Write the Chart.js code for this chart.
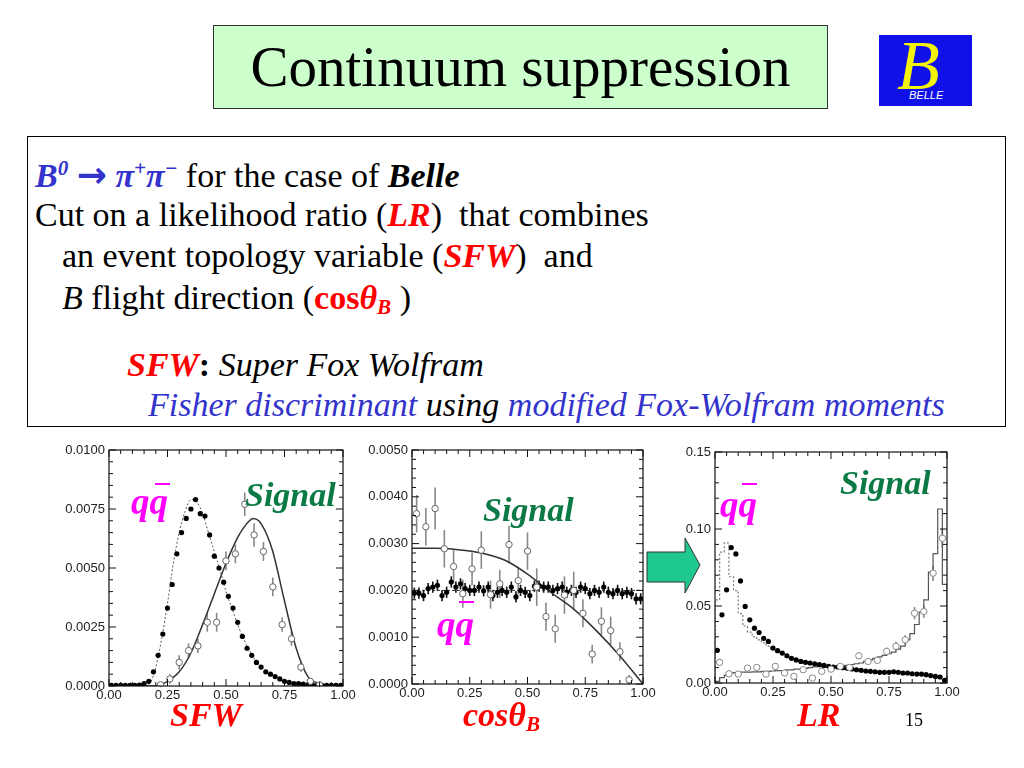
<!DOCTYPE html>
<html>
<head>
<meta charset="utf-8">
<script src="https://cdn.jsdelivr.net/npm/chart.js@4.4.1/dist/chart.umd.min.js"></script>
<style>
  body { margin:0; width:1024px; height:768px; background:#fff; position:relative; overflow:hidden;
         font-family:"Liberation Serif","Times New Roman",serif; }
  .abs { position:absolute; line-height:1; white-space:nowrap; }
  #title { left:213px; top:25px; width:613px; height:82px; background:#ccffcc; border:1px solid #333;
           font-size:57px; line-height:82px; text-align:center; }
  #logo { left:879px; top:35px; width:93px; height:71px; background:#1010e8; overflow:hidden; }
  #box { left:27px; top:136px; width:977px; height:289px; border:1px solid #000; }
  .txt { font-size:34px; }
  .blue { color:#3333cc; }
  .red { color:#ff0000; }
  .bi { font-weight:bold; font-style:italic; }
  .it { font-style:italic; }
  .sup { font-size:0.62em; vertical-align:0.55em; }
  .sub { font-size:0.62em; vertical-align:-0.25em; }
  .arr { font-family:"DejaVu Sans",sans-serif; font-style:normal; font-weight:bold; font-size:36px; }
  .mag { color:#ff00ff; font-size:37px; font-weight:bold; font-style:italic; }
  .grn { color:#0b7a45; font-size:34px; font-weight:bold; font-style:italic; }
  .bar { position:absolute; height:2px; background:#ff00ff; }
  canvas { position:absolute; }
</style>
</head>
<body>
<div id="title" class="abs">Continuum suppression</div>

<div id="logo" class="abs">
  <div class="abs" style="left:18px;top:-4px;font-size:70px;color:#f2f20a;font-style:italic;">B</div>
  <div class="abs" style="left:30px;top:55px;font-size:11px;color:#fff;font-style:italic;font-family:'Liberation Sans',sans-serif;">BELLE</div>
</div>

<div id="box" class="abs"></div>
<div class="abs txt" style="left:35px;top:157px;"><span class="blue bi">B<span class="sup">0</span> <span class="arr">&rarr;</span> &pi;<span class="sup">+</span>&pi;<span class="sup">&minus;</span></span> for the case of <span class="bi">Belle</span></div>
<div class="abs txt" style="left:35px;top:198px;">Cut on a likelihood ratio (<span class="red bi">LR</span>)&nbsp; that combines</div>
<div class="abs txt" style="left:62px;top:239px;">an event topology variable (<span class="red bi">SFW</span>)&nbsp; and</div>
<div class="abs txt" style="left:62px;top:281px;"><span class="it">B</span> flight direction (<span class="red"><b>cos</b><span class="bi">&theta;<span class="sub">B</span></span></span> )</div>
<div class="abs txt" style="left:127px;top:348px;"><span class="red bi">SFW</span><b>:</b> <span class="it">Super Fox Wolfram</span></div>
<div class="abs txt it" style="left:148px;top:388px;"><span class="blue">Fisher discriminant</span> using <span class="blue">modified Fox-Wolfram moments</span></div>

<canvas id="c1" width="306" height="264" style="left:55px;top:442px;"></canvas>
<canvas id="c2" width="303" height="262" style="left:358px;top:442px;"></canvas>
<canvas id="c3" width="304" height="259" style="left:661px;top:444px;"></canvas>

<svg class="abs" style="left:0;top:0;" width="1024" height="768">
  <polygon points="647,552 685,552 685,538 700,565 685,593 685,582 647,582" fill="#1fc98d" stroke="#333" stroke-width="1"/>
</svg>

<!-- labels inside the plots -->
<div class="abs mag" style="left:131px;top:483px;">qq</div>
<div class="bar" style="left:155px;top:483px;width:15px;"></div>
<div class="abs grn" style="left:245px;top:478px;">Signal</div>
<div class="abs grn" style="left:483px;top:493px;">Signal</div>
<div class="abs mag" style="left:437px;top:606px;">qq</div>
<div class="bar" style="left:459px;top:601px;width:15px;"></div>
<div class="abs mag" style="left:720px;top:486px;">qq</div>
<div class="bar" style="left:742px;top:483px;width:15px;"></div>
<div class="abs grn" style="left:840px;top:466px;">Signal</div>

<div class="abs red bi" style="left:170px;top:698px;font-size:34px;">SFW</div>
<div class="abs red bi" style="left:463px;top:698px;font-size:34px;">cos&theta;<span class="sub">B</span></div>
<div class="abs red bi" style="left:797px;top:698px;font-size:34px;">LR</div>
<div class="abs" style="left:905px;top:711px;font-size:18px;">15</div>

<script>
// ---- SFW plot ----
var sfwQq = [0.00003,0.00003,0.00003,0.00003,0.00003,0.00003,0.00004,0.0001,0.0002,0.0006,
             0.0013,0.0022,0.0033,0.0043,0.0056,0.0065,0.0071,0.0075,0.0079,0.0073,
             0.0072,0.0064,0.0055,0.0050,0.0044,0.0038,0.0033,0.0027,0.0021,0.0016,
             0.0013,0.0010,0.0008,0.0006,0.0005,0.0004,0.0003,0.0002,0.00015,0.0001,
             0.0001,0.00008,0.00005,0.00004,0.00003,0.00003,0.00003,0.00003,0.00003,0.00003];
var sfwSig = [null,null,null,null,null,0.00005,0.0003,0.0010,0.0015,0.0017,
              0.0027,0.0027,0.0053,0.0056,0.0077,0.0064,0.0057,0.0042,0.0026,0.0020,
              0.0008,0.0002,0.00005,null,null];
var sfwSigErr = [0,0,0,0,0,0.0001,0.0002,0.0003,0.0003,0.0003,
                 0.0004,0.0004,0.0004,0.0004,0.0005,0.0005,0.0004,0.0004,0.0003,0.0003,
                 0.0002,0.0001,0.0001,0,0];
var sfwQqFitX = [0.00,0.15,0.18,0.20,0.225,0.25,0.275,0.30,0.325,0.35,0.375,0.40,0.425,0.45,0.475,0.50,0.525,0.55,0.575,0.60,0.625,0.65,0.70,0.75,0.80,0.90,1.00];
var sfwQqFitY = [0,0,0.0002,0.0008,0.0020,0.0035,0.0052,0.0065,0.0074,0.0079,0.0078,0.0073,0.0065,0.0057,0.0049,0.0040,0.0033,0.0026,0.0020,0.0015,0.0011,0.0008,0.0004,0.0002,0.0001,0,0];
var sfwSigFitX = [0.00,0.20,0.25,0.30,0.35,0.40,0.45,0.50,0.55,0.575,0.60,0.615,0.64,0.675,0.70,0.75,0.80,0.85,0.90,0.95,1.00];
var sfwSigFitY = [0,0,0.0002,0.0006,0.0014,0.0026,0.0039,0.0052,0.0063,0.0067,0.0070,0.0071,0.0070,0.0064,0.0057,0.0036,0.0016,0.0004,0.0001,0,0];

// ---- cos theta_B plot ----
var cosQq = [19.4,19.4,18.9,20.4,20.7,21.1,18.9,19.6,21.8,20.7,21.4,20.4,20.0,20.0,20.7,19.9,20.7,18.9,19.6,20.0,
             19.6,20.7,18.6,20.0,19.6,18.9,20.9,20.9,20.7,20.7,20.0,20.4,20.7,19.6,20.0,19.6,20.7,20.4,19.3,20.0,
             19.6,20.7,19.6,19.3,20.0,19.3,19.6,19.3,18.2,18.2];   // units of 1e-4
var cosSig = [0.00364,0.00336,0.00375,0.00289,0.00251,0.00193,0.00246,0.00286,0.00191,0.00214,
              0.00298,0.00221,0.00284,0.00207,0.00144,0.00118,0.0019,0.0020,0.00151,0.00064,
              0.00134,0.00114,0.00069,0.00009,null];
var cosSigErr = [0.0004,0.0004,0.00045,0.0004,0.00035,0.0003,0.00035,0.0004,0.0003,0.0003,
                 0.0004,0.0003,0.0004,0.0004,0.0003,0.0003,0.0004,0.0004,0.0003,0.0002,
                 0.0003,0.0003,0.0002,0.0001,0];
var cosQqFitX = [0, 1];
var cosQqFitY = [0.0020, 0.0020];
var cosSigFitX = [0,0.1,0.2,0.3,0.4,0.5,0.6,0.7,0.8,0.9,1.0];
var cosSigFitY = [0.0029,0.0029,0.00287,0.0028,0.00265,0.00235,0.00196,0.0016,0.00113,0.0006,0];

// ---- LR plot ----
var lrQq = [0.0212,0.0443,0.0605,0.088,0.0838,0.0663,0.0497,0.041,0.0356,0.0328,
            0.029,0.027,0.0227,0.021,0.0194,0.0177,0.016,0.015,0.014,0.0134,
            0.013,0.0125,0.0119,0.0114,0.0108,0.0104,0.0104,0.0099,0.0095,0.0091,
            0.0086,0.0082,0.0078,0.0076,0.0073,0.0069,0.0069,0.0069,0.0073,0.0069,
            0.0065,0.0065,0.006,0.0058,0.0058,0.0054,0.0048,0.0043,0.0039,0.0017];
var lrSig = [0.0134,0.006,0.0058,0.0097,0.0101,0.0058,0.0108,0.0065,0.0043,0.0086,
             0.0032,0.0076,0.009,0.0108,0.0101,0.0177,0.014,0.0147,0.0205,0.0238,
             0.028,0.0453,0.0464,0.0713,0.094];
var lrSigErr = [0.002,0.0015,0.0015,0.0015,0.0015,0.0015,0.0015,0.0015,0.0015,0.0015,
                0.0015,0.0015,0.0015,0.0015,0.0015,0.002,0.002,0.002,0.0025,0.003,
                0.003,0.004,0.004,0.005,0.006];
var lrQqHist = [0.054,0.085,0.091,0.069,0.060,0.045,0.037,0.033,0.030,0.028,
                0.026,0.024,0.022,0.020,0.019,0.017,0.016,0.015,0.014,0.013,
                0.0125,0.012,0.0115,0.011,0.0105,0.010,0.010,0.0095,0.009,0.0088,
                0.0085,0.008,0.0078,0.0075,0.0072,0.007,0.0068,0.0068,0.0068,0.0066,
                0.0064,0.0062,0.006,0.0058,0.0056,0.0053,0.0048,0.0043,0.0038,0.002];
var lrSigHist = [0.001,0.0035,0.005,0.0065,0.0068,0.007,0.007,0.007,0.0072,0.0072,
                 0.0075,0.0075,0.0078,0.008,0.008,0.0085,0.0085,0.009,0.009,0.0095,
                 0.010,0.0105,0.011,0.0105,0.011,0.0105,0.011,0.011,0.0115,0.012,
                 0.0125,0.013,0.014,0.015,0.016,0.017,0.018,0.019,0.020,0.022,
                 0.024,0.028,0.032,0.038,0.046,0.054,0.072,0.084,0.113,0.064];

var xTicks = [0, 0.25, 0.5, 0.75, 1];

function centers(n){
    var w = 1 / n, out = [];
    for (var i = 0; i < n; i++) out.push(+(w * (i + 0.5)).toFixed(4));
    return out;
}
function pts(xs, ys, scale){
    return ys.map(function(v, i){ return {x: xs[i], y: v == null ? null : v * (scale || 1)}; });
}
function histPts(vals){
    var w = 1 / vals.length, out = [{x: 0, y: 0}];
    vals.forEach(function(v, i){ out.push({x: +(i * w).toFixed(4), y: v}); });
    out.push({x: 1, y: vals[vals.length - 1]});
    out.push({x: 1, y: 0});
    return out;
}

// error bars + frame with inward ticks
var errPlugin = {
    id: 'errbars',
    beforeDatasetsDraw: function(chart){
        var ctx = chart.ctx, ys = chart.scales.y;
        chart.data.datasets.forEach(function(ds, i){
            if (!ds.errors) return;
            var meta = chart.getDatasetMeta(i);
            ctx.save();
            ctx.strokeStyle = ds.errColor || '#888';
            ctx.lineWidth = 1.6;
            meta.data.forEach(function(el, j){
                var v = ds.data[j].y, e = ds.errors[j];
                if (v == null || !e) return;
                ctx.beginPath();
                ctx.moveTo(el.x, ys.getPixelForValue(v - e));
                ctx.lineTo(el.x, ys.getPixelForValue(v + e));
                ctx.stroke();
            });
            ctx.restore();
        });
    }
};
var framePlugin = {
    id: 'frame',
    afterDraw: function(chart){
        var o = chart.options.plugins.frame, a = chart.chartArea, ctx = chart.ctx;
        var xs = chart.scales.x, ys = chart.scales.y;
        ctx.save();
        ctx.strokeStyle = '#111';
        ctx.lineWidth = 1.2;
        ctx.strokeRect(a.left, a.top, a.right - a.left, a.bottom - a.top);
        ctx.lineWidth = 1;
        var n = Math.round((xs.max - xs.min) / o.xMinor), k = Math.round(o.xMajor / o.xMinor);
        for (var i = 0; i <= n; i++){
            var px = xs.getPixelForValue(xs.min + i * o.xMinor), len = i % k == 0 ? 7 : 4;
            ctx.beginPath();
            ctx.moveTo(px, a.bottom); ctx.lineTo(px, a.bottom - len);
            ctx.moveTo(px, a.top); ctx.lineTo(px, a.top + len);
            ctx.stroke();
        }
        n = Math.round((ys.max - ys.min) / o.yMinor); k = Math.round(o.yMajor / o.yMinor);
        for (i = 0; i <= n; i++){
            var py = ys.getPixelForValue(ys.min + i * o.yMinor); len = i % k == 0 ? 7 : 4;
            ctx.beginPath();
            ctx.moveTo(a.left, py); ctx.lineTo(a.left + len, py);
            ctx.moveTo(a.right, py); ctx.lineTo(a.right - len, py);
            ctx.stroke();
        }
        ctx.restore();
    }
};

function makeOptions(yMax, yStep, yMinor, dec){
    return {
        responsive: false,
        animation: false,
        layout: { padding: { top: 8, right: 18, left: 2, bottom: 0 } },
        plugins: {
            legend: { display: false },
            tooltip: { enabled: false },
            frame: { xMajor: 0.25, xMinor: 0.05, yMajor: yStep, yMinor: yMinor }
        },
        scales: {
            x: {
                type: 'linear', min: 0, max: 1,
                grid: { display: false, drawTicks: false },
                border: { display: false },
                afterBuildTicks: function(s){ s.ticks = xTicks.map(function(v){ return {value: v}; }); },
                afterFit: function(s){ s.height = 20; s.paddingLeft = 0; s.paddingRight = 0; },
                ticks: { autoSkip: false, maxRotation: 0, padding: 2, color: '#222',
                         font: { family: 'Liberation Sans', size: 13 },
                         callback: function(v){ return v.toFixed(2); } }
            },
            y: {
                min: 0, max: yMax,
                grid: { display: false, drawTicks: false },
                border: { display: false },
                afterFit: function(s){ s.width = 52; s.paddingTop = 0; s.paddingBottom = 0; },
                ticks: { stepSize: yStep, padding: 4, color: '#222',
                         font: { family: 'Liberation Sans', size: 13 },
                         callback: function(v){ return v.toFixed(dec); } }
            }
        }
    };
}

var qqStyle = { showLine: false, pointRadius: 2.6, pointBackgroundColor: '#000', pointBorderColor: '#000', pointBorderWidth: 0 };
var sigStyle = { showLine: false, pointRadius: 3.2, pointBackgroundColor: '#fff', pointBorderColor: '#666', pointBorderWidth: 1 };
function withStyle(style, extra){ return Object.assign({}, style, extra); }

new Chart(document.getElementById('c1'), {
    type: 'scatter',
    data: { datasets: [
        withStyle(sigStyle, { data: pts(centers(25), sfwSig), errors: sfwSigErr }),
        withStyle(qqStyle, { data: pts(centers(50), sfwQq) }),
        { type: 'line', data: pts(sfwSigFitX, sfwSigFitY), borderColor: '#333', borderWidth: 1.5, pointRadius: 0, cubicInterpolationMode: 'monotone' },
        { type: 'line', data: pts(sfwQqFitX, sfwQqFitY), borderColor: '#555', borderWidth: 1, borderDash: [2, 2], pointRadius: 0, cubicInterpolationMode: 'monotone' }
    ] },
    options: makeOptions(0.01, 0.0025, 0.0005, 4),
    plugins: [errPlugin, framePlugin]
});

new Chart(document.getElementById('c2'), {
    type: 'scatter',
    data: { datasets: [
        withStyle(sigStyle, { data: pts(centers(25), cosSig), errors: cosSigErr }),
        withStyle(qqStyle, { data: pts(centers(50), cosQq, 0.0001), errors: cosQq.map(function(){ return 0.00012; }), errColor: '#111' }),
        { type: 'line', data: pts(cosSigFitX, cosSigFitY), borderColor: '#333', borderWidth: 1.5, pointRadius: 0, cubicInterpolationMode: 'monotone' },
        { type: 'line', data: pts(cosQqFitX, cosQqFitY), borderColor: '#333', borderWidth: 1, borderDash: [3, 2], pointRadius: 0 }
    ] },
    options: makeOptions(0.005, 0.001, 0.0002, 4),
    plugins: [errPlugin, framePlugin]
});

new Chart(document.getElementById('c3'), {
    type: 'scatter',
    data: { datasets: [
        withStyle(sigStyle, { data: pts(centers(25), lrSig), errors: lrSigErr, pointBorderColor: '#888' }),
        withStyle(qqStyle, { data: pts(centers(50), lrQq) }),
        { type: 'line', data: histPts(lrSigHist), stepped: 'before', borderColor: '#555', borderWidth: 1.2, pointRadius: 0 },
        { type: 'line', data: histPts(lrQqHist), stepped: 'before', borderColor: '#777', borderWidth: 1.2, borderDash: [2, 2], pointRadius: 0 }
    ] },
    options: makeOptions(0.15, 0.05, 0.01, 2),
    plugins: [errPlugin, framePlugin]
});
</script>
</body>
</html>
